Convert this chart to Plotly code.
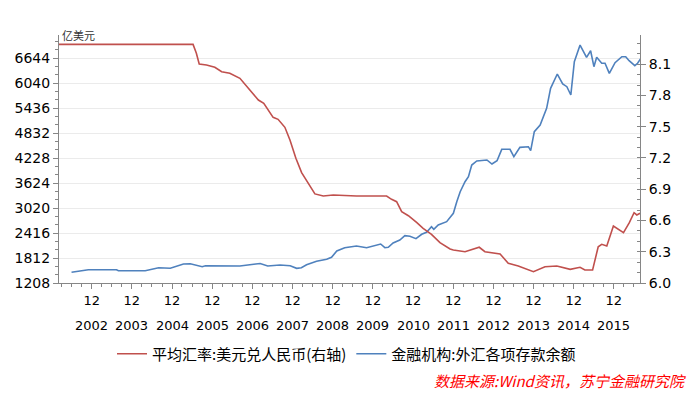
import plotly.graph_objects as go

# ---- data ----
# 平均汇率:美元兑人民币 (right axis)
rate_dates = ["2002-01-01", "2005-06-10", "2005-07-10", "2005-08-05", "2005-10-10", "2005-12-25",
              "2006-02-25", "2006-05-10", "2006-08-10", "2006-10-25", "2007-01-25", "2007-03-15",
              "2007-06-08", "2007-07-23", "2007-09-23", "2007-11-08", "2008-01-01", "2008-02-22",
              "2008-04-22", "2008-06-22", "2008-09-06", "2008-12-06", "2009-07-05", "2010-04-05",
              "2010-05-20", "2010-07-05", "2010-08-20", "2010-10-20", "2011-01-05", "2011-03-03",
              "2011-05-18", "2011-08-03", "2011-11-03", "2011-12-03", "2012-03-18", "2012-05-18",
              "2012-07-25", "2012-09-15", "2013-01-31", "2013-04-15", "2013-07-15", "2013-11-30",
              "2014-03-15", "2014-07-01", "2014-10-30", "2015-01-28", "2015-03-13", "2015-05-22",
              "2015-07-12", "2015-08-13", "2015-09-28", "2015-11-27", "2016-02-27", "2016-04-20",
              "2016-06-02", "2016-06-27", "2016-07-27"]
rate_vals = [8.29, 8.29, 8.204, 8.102, 8.092, 8.07,
             8.028, 8.013, 7.964, 7.869, 7.756, 7.725,
             7.59, 7.571, 7.494, 7.372, 7.197, 7.059,
             6.963, 6.855, 6.835, 6.845, 6.835, 6.835,
             6.803, 6.78, 6.684, 6.646, 6.579, 6.525,
             6.467, 6.387, 6.326, 6.317, 6.30, 6.323,
             6.343, 6.30, 6.278, 6.189, 6.163, 6.108,
             6.156, 6.163, 6.131, 6.151, 6.125, 6.125,
             6.348, 6.371, 6.355, 6.547, 6.483, 6.579,
             6.675, 6.653, 6.669]

# 金融机构:外汇各项存款余额 (left axis, 亿美元)
dep_dates = ["2002-06-01", "2002-09-01", "2002-11-01", "2003-07-15", "2003-08-01", "2004-04-01",
             "2004-06-01", "2004-08-01", "2004-11-15", "2005-01-01", "2005-03-15", "2005-05-15",
             "2005-08-01", "2005-09-01", "2005-10-01", "2006-01-01", "2006-08-10", "2007-01-01",
             "2007-02-10", "2007-04-20", "2007-08-10", "2007-11-10", "2008-01-08", "2008-02-20",
             "2008-04-07", "2008-07-07", "2008-10-07", "2008-11-20", "2009-01-07", "2009-03-20",
             "2009-07-05", "2009-10-05", "2010-01-05", "2010-02-10", "2010-03-20", "2010-04-20",
             "2010-06-03", "2010-08-03", "2010-09-18", "2010-11-03", "2010-12-28", "2011-02-18",
             "2011-04-03", "2011-05-18", "2011-06-08", "2011-07-18", "2011-10-03", "2011-12-03",
             "2012-01-03", "2012-02-03", "2012-03-18", "2012-04-18", "2012-05-18", "2012-07-03",
             "2012-10-03", "2012-11-18", "2013-01-03", "2013-02-15", "2013-05-01", "2013-06-05",
             "2013-07-30", "2013-10-15", "2013-11-05", "2013-12-08", "2014-01-30", "2014-03-30",
             "2014-05-05", "2014-07-05", "2014-08-23", "2014-09-30", "2014-11-05", "2014-12-07",
             "2015-01-28", "2015-03-28", "2015-05-04", "2015-06-03", "2015-06-28", "2015-08-13",
             "2015-09-12", "2015-10-21", "2015-12-12", "2016-02-12", "2016-03-18", "2016-04-18",
             "2016-06-09", "2016-07-04", "2016-08-03"]
dep_vals = [1467, 1505, 1529, 1529, 1505, 1505,
            1546, 1578, 1563, 1602, 1667, 1674,
            1619, 1602, 1626, 1619, 1619, 1667,
            1679, 1619, 1643, 1626, 1563, 1578,
            1650, 1732, 1781, 1829, 1981, 2061,
            2102, 2061, 2133, 2150, 2061, 2070,
            2174, 2247, 2351, 2336, 2278, 2385,
            2433, 2568, 2505, 2609, 2689, 2892,
            3172, 3414, 3655, 3776, 4059, 4156,
            4180, 4083, 4163, 4438, 4438, 4259,
            4486, 4501, 4404, 4863, 5025, 5429,
            5912, 6257, 6016, 5951, 5750, 6555,
            6958, 6661, 6820, 6434, 6661, 6516,
            6516, 6274, 6530, 6675, 6675, 6579,
            6458, 6516, 6637]

years = list(range(2002, 2016))
month_ticks = [f"{y}-12-01" for y in years]
month_text = ["12"] * len(years)

left_ticks = [1208, 1812, 2416, 3020, 3624, 4228, 4832, 5436, 6040, 6644]

RED = "#C0504D"
BLUE = "#4F81BD"
AXC = "#868686"
NUM_FONT = "DejaVu Sans"
CJK_FONT = "Noto Sans CJK SC"

fig = go.Figure()
fig.add_trace(go.Scatter(x=rate_dates, y=rate_vals, name="平均汇率:美元兑人民币(右轴)",
                         mode="lines", line=dict(color=RED, width=1.6), yaxis="y2"))
fig.add_trace(go.Scatter(x=dep_dates, y=dep_vals, name="金融机构:外汇各项存款余额",
                         mode="lines", line=dict(color=BLUE, width=1.6)))

annotations = [
    dict(text="亿美元", xref="paper", yref="paper", x=0, y=1.0, xanchor="left", yanchor="middle",
         xshift=1, showarrow=False, font=dict(family=CJK_FONT, size=11, color="#333333")),
    dict(text="<i>数据来源:Wind资讯，苏宁金融研究院</i>", xref="paper", yref="paper",
         x=(688 - 59) / 581, y=(283 - 381) / 248, xanchor="right", yanchor="middle",
         showarrow=False, font=dict(family=CJK_FONT, size=15, color="#FF0000")),
]
for y, d in zip(years, month_ticks):
    annotations.append(dict(text=str(y), x=d, xref="x", yref="paper", y=(283 - 325) / 248,
                            xanchor="center", yanchor="middle", showarrow=False,
                            font=dict(family=NUM_FONT, size=13, color="#000000")))

fig.update_layout(
    width=700, height=393, autosize=False,
    margin=dict(l=59, r=60, t=35, b=110),
    paper_bgcolor="white", plot_bgcolor="white",
    font=dict(family=NUM_FONT, color="#000000"),
    showlegend=True,
    legend=dict(orientation="h", x=(112 - 59) / 581, y=(283 - 354) / 248,
                xanchor="left", yanchor="middle",
                font=dict(family=CJK_FONT, size=15, color="#000000"),
                bgcolor="rgba(0,0,0,0)", itemwidth=30),
    xaxis=dict(type="date", range=["2002-02-07", "2016-07-26"],
               tickmode="array", tickvals=month_ticks, ticktext=month_text,
               ticks="outside", ticklen=5, tickcolor=AXC, tickwidth=1,
               showline=True, linecolor=AXC, linewidth=1, showgrid=False, zeroline=False,
               tickfont=dict(family=NUM_FONT, size=13, color="#000000"),
               minor=dict(dtick="M3", tick0="2002-12-01", ticks="outside", ticklen=3,
                          tickcolor=AXC, showgrid=False)),
    yaxis=dict(range=[1208, 7200], tickmode="array", tickvals=left_ticks,
               ticks="outside", ticklen=5, tickcolor=AXC,
               showline=True, linecolor=AXC, linewidth=1,
               showgrid=True, gridcolor="#EBEBEB", gridwidth=1, zeroline=False,
               tickfont=dict(family=NUM_FONT, size=14, color="#000000"),
               minor=dict(tick0=1208, dtick=604 / 3, ticks="outside", ticklen=3,
                          tickcolor=AXC, showgrid=False)),
    yaxis2=dict(overlaying="y", side="right", anchor="x", range=[6.0, 8.38],
                tick0=6.0, dtick=0.3, tickformat=".1f",
                ticks="outside", ticklen=5, tickcolor=AXC,
                showline=True, linecolor=AXC, linewidth=1, showgrid=False, zeroline=False,
                tickfont=dict(family=NUM_FONT, size=14, color="#000000"),
                minor=dict(tick0=6.0, dtick=0.1, ticks="inside", ticklen=3,
                           tickcolor=AXC, showgrid=False)),
    annotations=annotations,
)

fig.write_html("out.html", config={"displayModeBar": False},
               post_script="document.body.style.margin='0px';")
